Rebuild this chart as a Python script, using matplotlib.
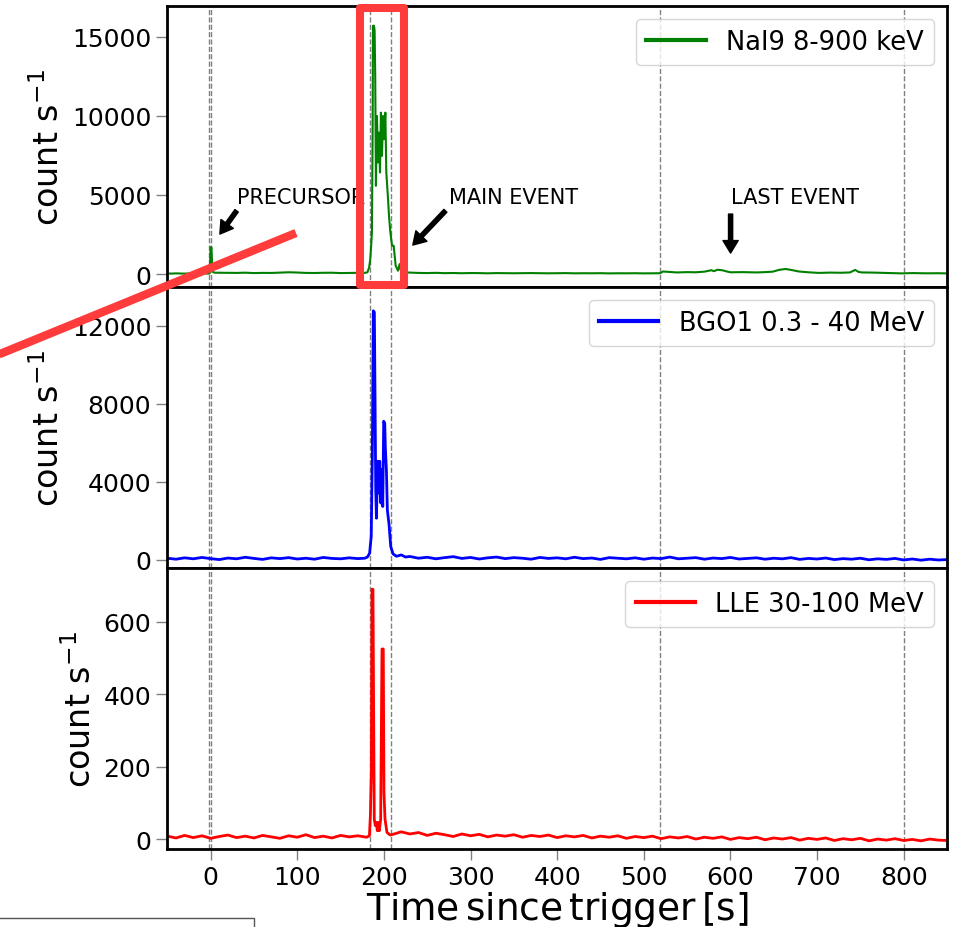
import matplotlib
matplotlib.use("Agg")
import matplotlib.pyplot as plt
from matplotlib.lines import Line2D
from matplotlib.patches import Rectangle

# ---------------- data ----------------
nai_t = [-50, -45, -40, -35, -30, -25, -20, -15, -10, -5, -2, -1, 0, 1, 2, 3, 5,
         10, 20, 30, 40, 50, 60, 70, 80, 90, 100, 110, 120, 130, 140, 150, 160, 170, 178, 181,
         183, 184.3, 185, 186.2, 187, 187.4, 188.5, 189.3, 190, 190.8, 192, 193.2, 194.3, 195.5,
         196.6, 197.8, 199, 200.1, 201.7, 202.8, 204.8, 206, 207.5, 209.4, 211.3, 213.6, 216.3,
         218.2, 220, 225, 230,
         240, 250, 260, 270, 280, 290, 300, 310, 320, 330, 340, 350, 360, 370, 380, 390, 400,
         410, 420, 430, 440, 450, 460, 470, 480, 490, 500, 510,
         515, 519, 522, 527, 538, 550, 560, 570, 578, 581, 585, 590.5, 596, 600, 615, 630, 640,
         649, 656, 663.6, 670, 679, 690, 702, 715, 728, 738, 744, 748, 752, 765, 780, 798, 810,
         825, 840, 850]
nai_c = [35, 28, 40, 31, 25, 38, 30, 27, 36, 33, 30, 45, 1700, 1680, 220, 110, 85,
         80, 75, 70, 85, 60, 72, 68, 90, 110, 95, 70, 65, 78, 82, 60, 70, 75, 72, 110,
         420, 950, 1500, 2630, 9000, 15680, 15700, 15400, 12520, 5575, 9990, 7050, 8940, 6420,
         10200, 7470, 9990, 8520, 10200, 6420, 4730, 3600, 2630, 1790, 1790, 525, 210,
         630, 150, 110, 90,
         70, 60, 75, 55, 65, 50, 62, 58, 45, 60, 52, 48, 55, 60, 50, 45, 52,
         58, 44, 50, 47, 53, 40, 48, 45, 50, 42, 44,
         45, 50, 160, 140, 100, 120, 110, 150, 240, 180, 270, 240, 160, 110, 120, 100, 120,
         150, 260, 320, 260, 160, 110, 70, 90, 80, 100, 260, 130, 100, 90, 70, 40, 60,
         45, 50, 40]

bgo_t = [-50, -40, -30, -20, -10, 0, 10, 20, 30, 40, 50, 60, 70, 80, 90, 100, 110, 120, 130,
         140, 150, 160, 170, 178, 181,
         183.5, 185.4, 186.6, 187.8, 189, 189.8, 190.6, 191.4, 192.9, 194.1, 195.2, 196.4,
         197.5, 198.7, 199.8, 201, 201.7, 202.9, 204, 206, 207.9, 210.6, 214.5, 220, 225,
         230, 240, 250, 260, 270, 280, 290, 300, 310, 320, 330, 340, 350, 360, 370, 380, 390,
         400, 410, 420, 430, 440, 450, 460, 470, 480, 490, 500, 510, 520, 530, 540, 550, 560,
         570, 580, 590, 600, 610, 620, 630, 640, 650, 660, 670, 680, 690, 700, 710, 720, 730,
         740, 750, 760, 770, 780, 790, 800, 810, 820, 830, 840, 850]
bgo_c = [90, 40, 110, 60, 130, 70, 20, 100, 60, 140, 80, 30, 110, 70, 120, 50, 90, 40, 130,
         80, 60, 110, 70, 90, 150,
         343, 1200, 5140, 12770, 12700, 8230, 3600, 2140, 5060, 3430, 5060, 2920,
         4630, 2740, 7110, 7000, 5740, 4630, 2570, 1800, 690, 310, 190, 260, 150,
         180, 90, 140, 60, 120, 170, 80, 130, 50, 110, 150, 70, 120, 90, 40, 130, 80,
         110, 60, 140, 70, 100, 30, 120, 90, 60, 110, 40, 100, 70, 150, 60, 90, 120,
         40, 100, 70, 130, 50, 80, 110, 40, 90, 60, 120, 30, 80, 50, 100, 20, 70,
         40, 90, 10, 60, 30, 80, 0, 50, -10, 40, 0, 20]

lle_t = [-50, -40, -30, -20, -10, 0, 10, 20, 30, 40, 50, 60, 70, 80, 90, 100, 110, 120, 130,
         140, 150, 160, 170, 180,
         183.3, 184.4, 185.5, 186.3, 187.4, 188.2, 188.9, 190.1, 191.3, 192.4, 193.6, 194.7,
         196.3, 197.8, 199.3, 200.1, 201.3, 203.6, 207.4, 213.2,
         220, 230, 240, 250, 260, 270, 280, 290, 300, 310, 320, 330, 340, 350, 360, 370, 380,
         390, 400, 410, 420, 430, 440, 450, 460, 470, 480, 490, 500, 510, 520, 530, 540, 550,
         560, 570, 580, 590, 600, 610, 620, 630, 640, 650, 660, 670, 680, 690, 700, 710, 720,
         730, 740, 750, 760, 770, 780, 790, 800, 810, 820, 830, 840, 850]
lle_c = [8, 3, 10, 4, 9, 2, 7, 11, 4, 8, 3, 10, 6, 2, 9, 5, 12, 4, 8,
         3, 10, 6, 9, 5,
         9, 64, 184, 690, 690, 340, 55, 37, 46, 23, 46, 23,
         55, 525, 525, 128, 55, 18, 11, 15,
         20, 14, 18, 10, 16, 12, 7, 14, 9, 13, 6, 11, 8, 12, 5, 10, 7,
         11, 4, 9, 6, 10, 3, 8, 5, 9, 2, 7, 4, 8, 1, 6, 3, 7,
         0, 5, 2, 6, -1, 4, 1, 5, -2, 3, 0, 4, -3, 2, -1, 3, -4,
         1, -2, 2, -5, 0, -3, 1, -4, -1, -5, 0, -3, -4]

event_lines = [-2, 1, 184, 208, 519, 800]

labels = ["NaI9 8-900 keV", "BGO1 0.3 - 40 MeV", "LLE 30-100 MeV"]
colors = ["green", "blue", "red"]
yticks = [[0, 5000, 10000, 15000], [0, 4000, 8000, 12000], [0, 200, 400, 600]]
ylims = [(-820, 16940), (-411, 13990), (-27.5, 748.7)]
xticks = [0, 100, 200, 300, 400, 500, 600, 700, 800]

# annotations: (text, text position, arrow tail, arrow tip)
ann_text = ["PRECURSOR", "MAIN EVENT", "LAST EVENT"]
ann_xy_text = [(31, 4480), (275.6, 4480), (601, 4480)]
ann_tail = [(30, 3996), (271, 3996), (600.2, 3790)]
ann_tip = [(10.7, 2525), (233.4, 1830), (600.2, 1325)]

# ---------------- figure ----------------
W, H = 956, 928
fig, axes = plt.subplots(3, 1, sharex=True, figsize=(W / 100, H / 100), dpi=100)
fig.subplots_adjust(left=167.3 / W, right=947 / W, top=1 - 7 / H, bottom=1 - 850 / H, hspace=0)

series = [(nai_t, nai_c, 1.5), (bgo_t, bgo_c, 2.0), (lle_t, lle_c, 2.0)]
for i, ax in enumerate(axes):
    t, c, lw = series[i]
    ax.plot(t, c, color=colors[i], lw=lw, label=labels[i])
    for xv in event_lines:
        ax.axvline(xv, color="gray", ls="--", lw=1.0, zorder=0)
    ax.set_ylim(*ylims[i])
    ax.set_yticks(yticks[i])
    ax.set_ylabel(r"count s$^{-1}$", fontsize=24)
    ax.tick_params(axis="y", labelsize=18, direction="out", length=8, color="gray", width=1)
    ax.tick_params(axis="x", labelsize=18, direction="out", length=8, color="gray", width=1)
    for s in ax.spines.values():
        s.set_linewidth(2)
        s.set_color("black")
    leg = ax.legend(loc="upper right", fontsize=18.5, handlelength=2.3)
    for lh in leg.get_lines():
        lh.set_linewidth(3)
    if i < 2:
        ax.tick_params(axis="x", bottom=False, labelbottom=False)

axes[-1].set_xlim(-50, 850)
axes[-1].set_xticks(xticks)
axes[-1].set_xlabel(r"$\mathrm{Time\,since\,trigger\,[s]}$", fontsize=27, labelpad=0)

ax0 = axes[0]
for txt, xyt, tail, tip in zip(ann_text, ann_xy_text, ann_tail, ann_tip):
    ax0.text(xyt[0], xyt[1], txt, fontsize=15, va="baseline", ha="left")
    ax0.annotate("", xy=tip, xytext=tail,
                 arrowprops=dict(facecolor="black", edgecolor="black", width=3,
                                 headwidth=11, headlength=9, shrink=0))

# ---------------- overlay marks (figure pixel positions) ----------------
def fx(px):
    return px / W

def fy(py):
    return 1 - py / H

red = "#ff3b3b"
rect = Rectangle((fx(360), fy(286)), fx(404.3) - fx(360), fy(9) - fy(286),
                 transform=fig.transFigure, fill=False, edgecolor=red, lw=5.8,
                 joinstyle="round", zorder=20, clip_on=False)
fig.add_artist(rect)
fig.add_artist(Line2D([fx(-5), fx(296)], [fy(357), fy(234)], transform=fig.transFigure,
                      color=red, lw=6, solid_capstyle="butt", zorder=20))
fig.add_artist(Line2D([fx(0), fx(254), fx(254)], [fy(919), fy(919), fy(930)],
                      transform=fig.transFigure, color="#555555", lw=1, zorder=20))

fig.savefig("out.png", dpi=100)
